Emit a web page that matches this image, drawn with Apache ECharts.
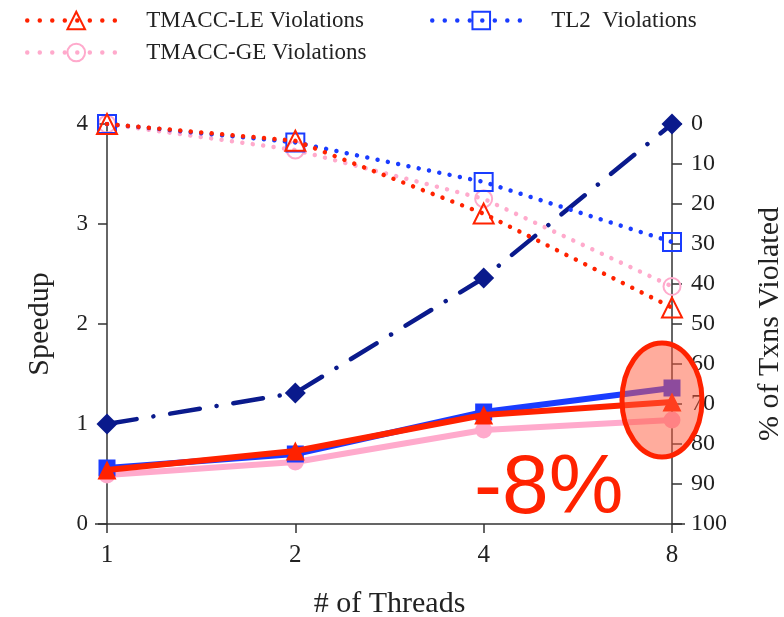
<!DOCTYPE html>
<html>
<head>
<meta charset="utf-8">
<script src="https://cdn.jsdelivr.net/npm/echarts@6/dist/echarts.min.js"></script>
<style>
  html, body { margin: 0; padding: 0; background: #fff; }
  #chart { width: 784px; height: 617px; }
</style>
</head>
<body>
<div id="chart"></div>
<script>
// Thread counts on the x axis
var threads = ['1', '2', '4', '8'];

// Speedup (left axis)
var baselineSpeedup = [1.0, 1.31, 2.46, 4.0];
var tl2Speedup = [0.56, 0.70, 1.12, 1.36];
var leSpeedup = [0.54, 0.73, 1.09, 1.22];
var geSpeedup = [0.49, 0.62, 0.94, 1.04];

// Percentage of transactions violated (right axis, inverted)
var leViolations = [0, 4.2, 22.4, 45.9];
var geViolations = [0, 6.5, 18.7, 40.6];
var tl2Violations = [0, 4.6, 14.5, 29.5];

// Axis ticks
var speedupTicks = { min: 0, max: 4, interval: 1 };
var violatedTicks = { min: 0, max: 100, interval: 10 };

var SERIF = 'Liberation Serif';
var BLUE = '#1a3cff';
var RED = '#ff2200';
var PINK = '#ffaacc';
var NAVY = '#0a1a8c';
var AXIS = '#333';
var INK = '#222';

var chart = echarts.init(document.getElementById('chart'), null, { renderer: 'canvas' });

function dotted(color) {
  return { color: color, width: 4.5, type: [0.01, 10.5], cap: 'round' };
}

function legendAt(name, left, top, label) {
  return {
    data: [name],
    left: left,
    top: top,
    itemWidth: 98,
    itemHeight: 22,
    selectedMode: false,
    formatter: function () { return label; },
    lineStyle: { width: 4.5, type: [0.01, 12.5], cap: 'round' },
    textStyle: { fontFamily: SERIF, fontSize: 23, color: INK, padding: [0, 0, 0, 16] }
  };
}

var option = {
  animation: false,
  backgroundColor: '#fff',
  grid: { left: 107, right: 112, top: 124, bottom: 93, containLabel: false, outerBoundsMode: 'none' },
  legend: [
    legendAt('TMACC-LE Violations', 20, 4, 'TMACC-LE Violations'),
    legendAt('TL2 Violations', 425, 4, 'TL2  Violations'),
    legendAt('TMACC-GE Violations', 20, 36, 'TMACC-GE Violations')
  ],
  xAxis: {
    type: 'category',
    data: threads,
    boundaryGap: false,
    name: '# of Threads',
    nameLocation: 'middle',
    nameGap: 65,
    nameTextStyle: { fontFamily: SERIF, fontSize: 30, color: INK },
    axisLine: { lineStyle: { color: AXIS, width: 1.5 } },
    axisTick: { show: true, length: 9, lineStyle: { color: AXIS, width: 1.5 } },
    axisLabel: { fontFamily: SERIF, fontSize: 25, color: INK, margin: 19 },
    splitLine: { show: false }
  },
  yAxis: [
    {
      type: 'value',
      position: 'left',
      min: speedupTicks.min,
      max: speedupTicks.max,
      interval: speedupTicks.interval,
      name: 'Speedup',
      nameLocation: 'middle',
      nameRotate: 90,
      nameGap: 52,
      nameTextStyle: { fontFamily: SERIF, fontSize: 30, color: INK },
      axisLine: { show: true, lineStyle: { color: AXIS, width: 1.5 } },
      axisTick: { show: true, length: 9, lineStyle: { color: AXIS, width: 1.5 } },
      axisLabel: { fontFamily: SERIF, fontSize: 23, color: INK, margin: 19 },
      splitLine: { show: false }
    },
    {
      type: 'value',
      position: 'right',
      inverse: true,
      min: violatedTicks.min,
      max: violatedTicks.max,
      interval: violatedTicks.interval,
      name: '% of Txns Violated',
      nameLocation: 'middle',
      nameRotate: 90,
      nameGap: 83,
      nameTextStyle: { fontFamily: SERIF, fontSize: 30, color: INK },
      axisLine: { show: true, lineStyle: { color: AXIS, width: 1.5 } },
      axisTick: { show: true, length: 10, lineStyle: { color: AXIS, width: 1.5 } },
      axisLabel: { fontFamily: SERIF, fontSize: 24, color: INK, margin: 19 },
      splitLine: { show: false }
    }
  ],
  series: [
    {
      name: 'Baseline Speedup',
      type: 'line',
      data: baselineSpeedup,
      yAxisIndex: 0,
      symbol: 'diamond',
      symbolSize: 21,
      itemStyle: { color: NAVY },
      lineStyle: { color: NAVY, width: 4.5, type: [30, 17, 0.01, 17], cap: 'round' },
      z: 3
    },
    {
      name: 'TMACC-GE Speedup',
      type: 'line',
      data: geSpeedup,
      yAxisIndex: 0,
      symbol: 'circle',
      symbolSize: 17,
      itemStyle: { color: PINK },
      lineStyle: { color: PINK, width: 6 },
      z: 4
    },
    {
      name: 'TL2 Speedup',
      type: 'line',
      data: tl2Speedup,
      yAxisIndex: 0,
      symbol: 'rect',
      symbolSize: 17,
      itemStyle: { color: BLUE },
      lineStyle: { color: BLUE, width: 6 },
      z: 5
    },
    {
      name: 'TMACC-LE Speedup',
      type: 'line',
      data: leSpeedup,
      yAxisIndex: 0,
      symbol: 'triangle',
      symbolSize: 19,
      itemStyle: { color: RED },
      lineStyle: { color: RED, width: 6 },
      z: 6
    },
    {
      name: 'TMACC-GE Violations',
      type: 'line',
      data: geViolations,
      yAxisIndex: 1,
      symbol: 'circle',
      symbolSize: 17,
      itemStyle: { color: 'rgba(255,255,255,0)', borderColor: PINK, borderWidth: 2 },
      lineStyle: dotted(PINK),
      z: 7
    },
    {
      name: 'TL2 Violations',
      type: 'line',
      data: tl2Violations,
      yAxisIndex: 1,
      symbol: 'rect',
      symbolSize: 18,
      itemStyle: { color: 'rgba(255,255,255,0)', borderColor: BLUE, borderWidth: 2 },
      lineStyle: dotted(BLUE),
      z: 8
    },
    {
      name: 'TMACC-LE Violations',
      type: 'line',
      data: leViolations,
      yAxisIndex: 1,
      symbol: 'triangle',
      symbolSize: 20,
      itemStyle: { color: 'rgba(255,255,255,0)', borderColor: RED, borderWidth: 2 },
      lineStyle: dotted(RED),
      z: 9
    }
  ]
};

chart.setOption(option);

// Axis-line overhang past both y axes, the highlight ellipse and the callout
var origin = chart.convertToPixel({ xAxisIndex: 0, yAxisIndex: 0 }, [0, 0]);
var lastX = chart.convertToPixel({ xAxisIndex: 0, yAxisIndex: 0 }, [3, 0]);
var focus = chart.convertToPixel({ xAxisIndex: 0, yAxisIndex: 0 }, [3, 1.24]);
chart.setOption({
  graphic: [
    {
      type: 'line',
      shape: { x1: origin[0] - 12, y1: origin[1], x2: origin[0], y2: origin[1] },
      style: { stroke: AXIS, lineWidth: 1.5 },
      z: 50
    },
    {
      type: 'line',
      shape: { x1: lastX[0], y1: lastX[1], x2: lastX[0] + 13, y2: lastX[1] },
      style: { stroke: AXIS, lineWidth: 1.5 },
      z: 50
    },
    {
      type: 'ellipse',
      shape: { cx: focus[0] - 10, cy: focus[1], rx: 40, ry: 57 },
      style: { fill: 'rgba(255,90,60,0.5)', stroke: RED, lineWidth: 5 },
      z: 100
    },
    {
      type: 'text',
      left: 474,
      top: 448,
      style: { text: '-8%', fill: RED, font: '84px "Liberation Sans"' },
      z: 100
    }
  ]
});
</script>
</body>
</html>
